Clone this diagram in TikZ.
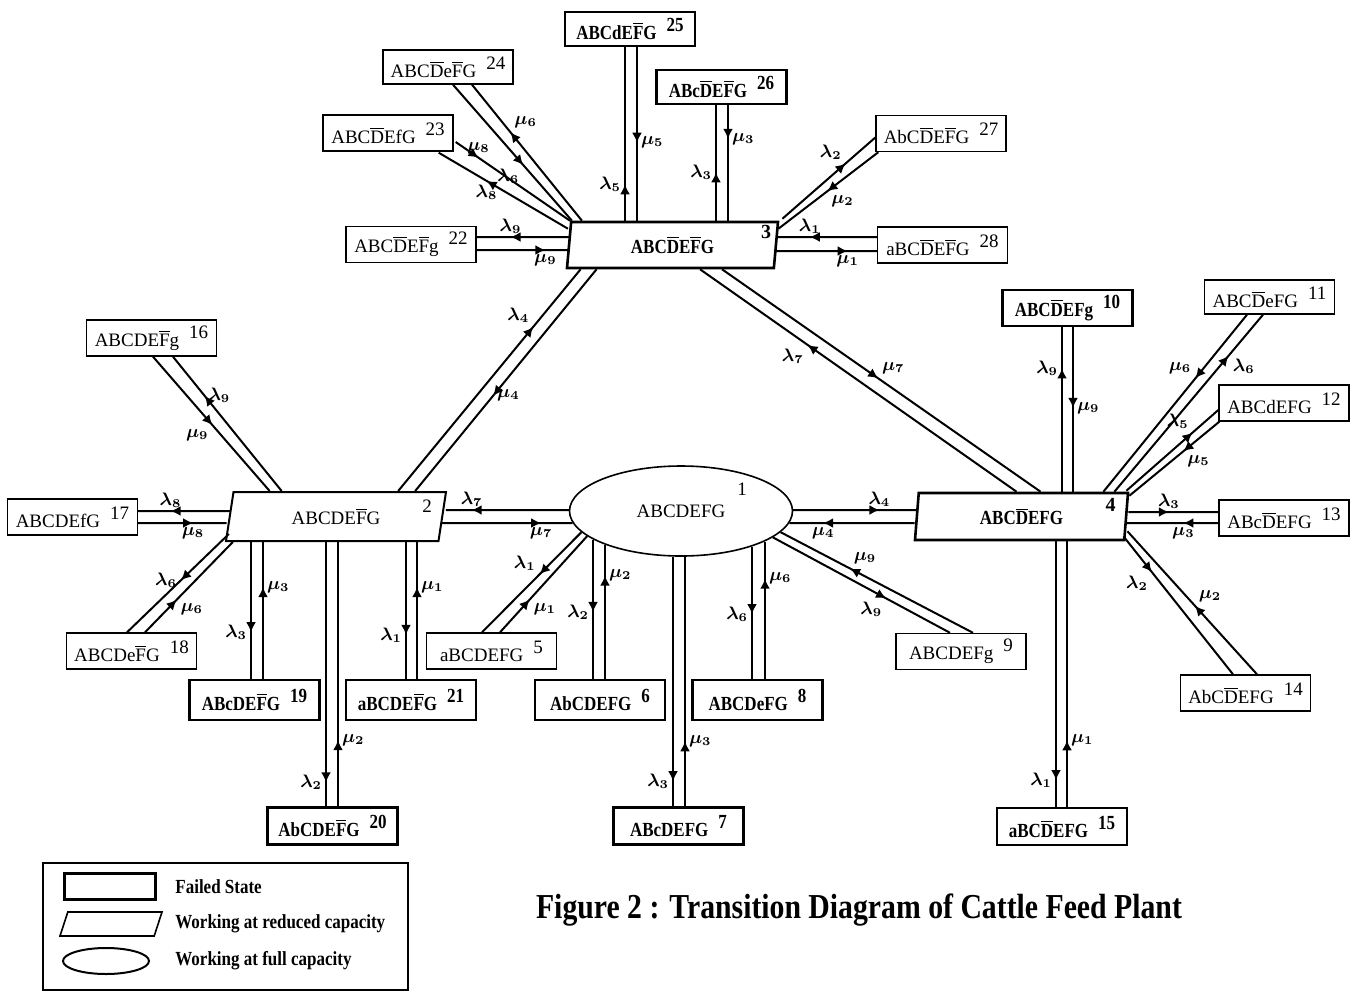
\documentclass[tikz,border=0pt]{standalone}
\usepackage{fontspec}
\setmainfont{Liberation Serif}
\newfontfamily\narrowfont[FakeStretch=0.85]{Liberation Serif}
\usetikzlibrary{shapes.geometric,arrows.meta,calc,decorations.markings}

\newcommand{\ov}[1]{$\overline{\mbox{#1}}$}
\newcommand{\nm}[1]{\hspace{5pt}\raisebox{4pt}{#1}}

\tikzset{
  sbox/.style={draw, line width=0.7pt, minimum width=65pt, minimum height=18pt, inner sep=1pt, font=\fontsize{9.5}{11}\selectfont},
  sboxb/.style={sbox, line width=1.4pt, font=\fontsize{10}{11}\selectfont\narrowfont\bfseries},
  wstate/.style={trapezium, trapezium stretches body, draw, line width=1pt, inner sep=1pt, minimum height=23pt},
  wire/.style={line width=1pt},
  arr/.style={postaction={decorate}, decoration={markings, mark=at position #1 with {\arrow{Latex[length=5pt,width=5pt]}}}},
  rate/.style={font=\fontsize{9}{10}\selectfont\boldmath, inner sep=1.5pt},
  num/.style={font=\fontsize{9.5}{11}\selectfont, inner sep=0pt},
  legtxt/.style={font=\fontsize{10}{12}\selectfont\narrowfont\bfseries, anchor=west, inner sep=0pt},
}

\begin{document}
\begin{tikzpicture}[x=0.5pt, y=-0.5pt]
\useasboundingbox (0,0) rectangle (1356,992);

% working states
\node[draw, ellipse, line width=0.8pt, minimum width=111.5pt, minimum height=45pt, font=\fontsize{9.5}{11}\selectfont, label={[num, xshift=30.5pt, yshift=11pt]center:1}] (n1) at (681,511) {ABCDEFG};
\node[wstate, trapezium left angle=70, trapezium right angle=110, minimum width=110pt, minimum height=24.5pt, font=\fontsize{9.5}{11}\selectfont, label={[num, xshift=45.5pt, yshift=5pt]center:2}] (n2) at (336,516.5) {ABCDE\ov{F}G};
\node[wstate, line width=1.3pt, trapezium left angle=79, trapezium right angle=101, minimum width=105.5pt, font=\fontsize{10}{11}\selectfont\narrowfont\bfseries, label={[num, font=\fontsize{10}{11}\selectfont\bfseries, xshift=46.75pt, yshift=6.5pt]center:3}] (n3) at (672.5,245) {ABC\ov{D}E\ov{F}G};
\node[wstate, line width=1.3pt, trapezium left angle=80, trapezium right angle=100, minimum width=106.5pt, minimum height=23.5pt, font=\fontsize{10}{11}\selectfont\narrowfont\bfseries, label={[num, font=\fontsize{10}{11}\selectfont\bfseries, xshift=44.5pt, yshift=5.75pt]center:4}] (n4) at (1021.5,516.5) {ABC\ov{D}EFG};

% failed states
\node[sboxb, minimum height=17pt] (n25) at (630,29) {ABCdE\ov{F}G\nm{25}};
\node[sbox, minimum height=17pt] (n24) at (448,67) {ABC\ov{D}e\ov{F}G\nm{24}};
\node[sboxb, minimum height=17pt] (n26) at (721.5,87) {ABc\ov{D}E\ov{F}G\nm{26}};
\node[sbox] (n23) at (388,133) {ABC\ov{D}EfG\nm{23}};
\node[sbox] (n27) at (941,133.5) {AbC\ov{D}E\ov{F}G\nm{27}};
\node[sbox] (n22) at (411,244.5) {ABC\ov{D}E\ov{F}g\nm{22}};
\node[sbox] (n28) at (942.5,245) {aBC\ov{D}E\ov{F}G\nm{28}};
\node[sbox] (n16) at (151.5,338) {ABCDE\ov{F}g\nm{16}};
\node[sboxb] (n10) at (1067.5,308) {ABC\ov{D}EFg\nm{10}};
\node[sbox, minimum height=17pt] (n11) at (1269.5,297) {ABC\ov{D}eFG\nm{11}};
\node[sbox] (n12) at (1284,403) {ABCdEFG\nm{12}};
\node[sbox] (n17) at (72.5,517) {ABCDEfG\nm{17}};
\node[sbox] (n13) at (1284,518) {ABc\ov{D}EFG\nm{13}};
\node[sbox] (n18) at (131.5,651) {ABCDe\ov{F}G\nm{18}};
\node[sbox] (n5) at (491.5,651) {aBCDEFG\nm{5}};
\node[sbox] (n9) at (961,651.5) {ABCDEFg\nm{9}};
\node[sboxb, minimum height=20pt] (n19) at (254.5,700) {ABcDE\ov{F}G\nm{19}};
\node[sboxb, minimum height=20pt] (n21) at (411,700) {aBCDE\ov{F}G\nm{21}};
\node[sboxb, minimum height=20pt] (n6) at (600,700) {AbCDEFG\nm{6}};
\node[sboxb, minimum height=20pt] (n8) at (757.5,700) {ABCDeFG\nm{8}};
\node[sboxb, minimum height=18.5pt] (n20) at (332.5,826) {AbCDE\ov{F}G\nm{20}};
\node[sboxb, minimum height=18.5pt] (n7) at (678.5,826) {ABcDEFG\nm{7}};
\node[sboxb, minimum height=18.5pt] (n15) at (1062,826.5) {aBC\ov{D}EFG\nm{15}};
\node[sbox] (n14) at (1245.5,693) {AbC\ov{D}EFG\nm{14}};

% transitions of state 3
\draw[wire, arr=0.21] ($(n25.south |- n3.north)+(-5,0)$) -- node[rate, pos=0.21, left] {$\lambda_5$} ($(n25.south)+(-5,0)$);
\draw[wire, arr=0.55] ($(n25.south)+(7,0)$) -- node[rate, pos=0.55, right] {$\mu_5$} ($(n25.south |- n3.north)+(7,0)$);
\draw[wire, arr=0.42] ($(n26.south |- n3.north)+(-5.5,0)$) -- node[rate, pos=0.42, left] {$\lambda_3$} ($(n26.south)+(-5.5,0)$);
\draw[wire, arr=0.29] ($(n26.south)+(6.5,0)$) -- node[rate, pos=0.29, right] {$\mu_3$} ($(n26.south |- n3.north)+(6.5,0)$);
\draw[wire, arr=0.68] ($(n3.top right corner)+(3,-2)$) -- node[rate, pos=0.68, above left] {$\lambda_2$} ($(n27.west)+(0,4)$);
\draw[wire, arr=0.51] ($(n27.south west)+(3,0)$) -- node[rate, pos=0.51, below right] {$\mu_2$} ($(n3.top right corner)+(-1,8)$);
\draw[wire, arr=0.68] ($(n28.west)+(0,-8)$) -- node[rate, pos=0.68, above] {$\lambda_1$} ($(n3.east)+(1,-8)$);
\draw[wire, arr=0.71] ($(n3.east)+(-1,6)$) -- node[rate, pos=0.71, below] {$\mu_1$} ($(n28.west)+(0,6)$);
\draw[wire, arr=0.64] ($(n3.west)+(3,-8)$) -- node[rate, pos=0.64, above] {$\lambda_9$} ($(n22.east)+(0,-7.5)$);
\draw[wire, arr=0.75] ($(n22.east)+(0,5.5)$) -- node[rate, pos=0.75, below] {$\mu_9$} ($(n3.west)+(0.5,5)$);
\draw[wire, arr=0.2] ($(n23.east)+(2,9)$) -- node[rate, pos=0.2, above] {$\mu_8$} (n3.top left corner);
\draw[wire, arr=0.63] ($(n3.top left corner)+(-2,8)$) -- node[rate, pos=0.63, below] {$\lambda_8$} ($(n23.south east)+(-15,1)$);
\draw[wire, arr=0.59] ($(n24.south)+(5,0)$) -- node[rate, pos=0.59, below left] {$\lambda_6$} ($(n3.top left corner)+(2,0)$);
\draw[wire, arr=0.65] ($(n3.top left corner)+(12,0)$) -- node[rate, pos=0.65, above right] {$\mu_6$} ($(n24.south)+(24,0)$);
\draw[wire, arr=0.74] ($(n2.top right corner)+(-49,0)$) -- node[rate, pos=0.74, above left] {$\lambda_4$} ($(n3.bottom left corner)+(15,0)$);
\draw[wire, arr=0.57] ($(n3.bottom left corner)+(31,0)$) -- node[rate, pos=0.57, right] {$\mu_4$} ($(n2.top right corner)+(-32,0)$);
\draw[wire, arr=0.66] ($(n4.top left corner)+(99,0)$) -- node[rate, pos=0.66, below left] {$\lambda_7$} ($(n3.bottom right corner)+(-75,0)$);
\draw[wire, arr=0.49] ($(n3.bottom right corner)+(-53,0)$) -- node[rate, pos=0.49, above right] {$\mu_7$} ($(n4.top left corner)+(123,0)$);

% transitions of state 2
\draw[wire, arr=0.51] ($(n16.south)+(1.5,0)$) -- node[rate, pos=0.51, below left] {$\mu_9$} ($(n2.top left corner)+(37,0)$);
\draw[wire, arr=0.71] ($(n2.top left corner)+(49,0)$) -- node[rate, pos=0.71, right] {$\lambda_9$} ($(n16.south)+(21.5,0)$);
\draw[wire, arr=0.65] ($(n2.west)+(2,-5.5)$) -- node[rate, pos=0.65, above] {$\lambda_8$} ($(n17.east)+(0,-6)$);
\draw[wire, arr=0.62] ($(n17.east)+(0,6)$) -- node[rate, pos=0.62, below] {$\mu_8$} ($(n2.west)+(-2,6.5)$);
\draw[wire, arr=0.47] ($(n2.bottom left corner)+(4,-8)$) -- node[rate, pos=0.47, left] {$\lambda_6$} ($(n18.north)+(-4.5,0)$);
\draw[wire, arr=0.36] ($(n18.north)+(13.5,0)$) -- node[rate, pos=0.36, below right] {$\mu_6$} ($(n2.bottom left corner)+(8,0)$);
\draw[wire, arr=0.66] ($(n19.north |- n2.south)+(-3.5,0)$) -- node[rate, pos=0.66, left] {$\lambda_3$} ($(n19.north)+(-3.5,0)$);
\draw[wire, arr=0.67] ($(n19.north)+(8.5,0)$) -- node[rate, pos=0.67, right] {$\mu_3$} ($(n19.north |- n2.south)+(8.5,0)$);
\draw[wire, arr=0.91] ($(n20.north |- n2.south)+(-6.5,0)$) -- node[rate, pos=0.91, left] {$\lambda_2$} ($(n20.north)+(-6.5,0)$);
\draw[wire, arr=0.25] ($(n20.north)+(5.5,0)$) -- node[rate, pos=0.25, right] {$\mu_2$} ($(n20.north |- n2.south)+(5.5,0)$);
\draw[wire, arr=0.68] ($(n21.north |- n2.south)+(-5,0)$) -- node[rate, pos=0.68, left] {$\lambda_1$} ($(n21.north)+(-5,0)$);
\draw[wire, arr=0.67] ($(n21.north)+(6,0)$) -- node[rate, pos=0.67, right] {$\mu_1$} ($(n21.north |- n2.south)+(6,0)$);
\draw[wire, arr=0.79] ($(n1.west)+(0.5,-1)$) -- node[rate, pos=0.79, above] {$\lambda_7$} ($(n2.east)+(2.5,-6.5)$);
\draw[wire, arr=0.76] ($(n2.east)+(-2,6.5)$) -- node[rate, pos=0.76, below] {$\mu_7$} ($(n1.west)+(4,12)$);

% transitions of state 1
\draw[wire, arr=0.70] ($(n1.east)+(-0.5,-1)$) -- node[rate, pos=0.70, above] {$\lambda_4$} ($(n4.west)+(1,-6.5)$);
\draw[wire, arr=0.73] ($(n4.west)+(-1,6.5)$) -- node[rate, pos=0.73, below] {$\mu_4$} ($(n1.east)+(-4,12)$);
\draw[wire, arr=0.42] (n1.192) -- node[rate, pos=0.42, above left] {$\lambda_1$} ($(n5.north)+(-9.5,0)$);
\draw[wire, arr=0.34] ($(n5.north)+(8.5,0)$) -- node[rate, pos=0.34, below right] {$\mu_1$} (n1.195);
\draw[wire, arr=0.52] ($(n1.south -| n6.north)+(-7,-17)$) -- node[rate, pos=0.52, left] {$\lambda_2$} ($(n6.north)+(-7,0)$);
\draw[wire, arr=0.77] ($(n6.north)+(5,0)$) -- node[rate, pos=0.77, right] {$\mu_2$} ($(n1.south -| n6.north)+(5,-12)$);
\draw[wire, arr=0.9] ($(n1.south -| n7.north)+(-5.5,0)$) -- node[rate, pos=0.9, left] {$\lambda_3$} ($(n7.north)+(-5.5,0)$);
\draw[wire, arr=0.26] ($(n7.north)+(6.5,0)$) -- node[rate, pos=0.26, right] {$\mu_3$} ($(n1.south -| n7.north)+(6.5,0)$);
\draw[wire, arr=0.51] ($(n1.south -| n8.north)+(-5.5,-10)$) -- node[rate, pos=0.51, left] {$\lambda_6$} ($(n8.north)+(-5.5,0)$);
\draw[wire, arr=0.73] ($(n8.north)+(7.5,0)$) -- node[rate, pos=0.73, right] {$\mu_6$} ($(n1.south -| n8.north)+(7.5,-15)$);
\draw[wire, arr=0.64] ($(n9.north)+(12,0)$) -- node[rate, pos=0.64, above right] {$\mu_9$} (n1.348);
\draw[wire, arr=0.64] (n1.344) -- node[rate, pos=0.64, below left] {$\lambda_9$} ($(n9.north)+(-11,0)$);

% transitions of state 4
\draw[wire, arr=0.75] ($(n10.south |- n4.north)+(-5.5,0)$) -- node[rate, pos=0.75, left] {$\lambda_9$} ($(n10.south)+(-5.5,0)$);
\draw[wire, arr=0.49] ($(n10.south)+(5.5,0)$) -- node[rate, pos=0.49, right] {$\mu_9$} ($(n10.south |- n4.north)+(5.5,0)$);
\draw[wire, arr=0.36] ($(n11.south)+(-22.5,0)$) -- node[rate, pos=0.36, above left] {$\mu_6$} ($(n4.top right corner)+(-26,0)$);
\draw[wire, arr=0.77] ($(n4.top right corner)+(-15,0)$) -- node[rate, pos=0.77, below right] {$\lambda_6$} ($(n11.south)+(-6.5,0)$);
\draw[wire, arr=0.72] ($(n4.top right corner)+(-3,-1)$) -- node[rate, pos=0.72, above left] {$\lambda_5$} ($(n12.west)+(0,7)$);
\draw[wire, arr=0.40] ($(n12.south west)+(1,0)$) -- node[rate, pos=0.40, below right] {$\mu_5$} ($(n4.top right corner)+(0,4)$);
\draw[wire, arr=0.45] ($(n4.east)+(1,-4.5)$) -- node[rate, pos=0.45, above] {$\lambda_3$} ($(n13.west)+(0,-6)$);
\draw[wire, arr=0.38] ($(n13.west)+(0,5)$) -- node[rate, pos=0.38, below] {$\mu_3$} ($(n4.east)+(-1,6.5)$);
\draw[wire, arr=0.26] ($(n4.bottom right corner)+(-2,-5)$) -- node[rate, pos=0.26, below left] {$\lambda_2$} ($(n14.north)+(-12.5,0)$);
\draw[wire, arr=0.48] ($(n14.north)+(11.5,0)$) -- node[rate, pos=0.48, above right] {$\mu_2$} ($(n4.bottom right corner)+(2,-10)$);
\draw[wire, arr=0.9] ($(n15.north |- n4.south)+(-6,0)$) -- node[rate, pos=0.9, left] {$\lambda_1$} ($(n15.north)+(-6,0)$);
\draw[wire, arr=0.25] ($(n15.north)+(5,0)$) -- node[rate, pos=0.25, right] {$\mu_1$} ($(n15.north |- n4.south)+(5,0)$);

% legend
\draw[line width=1.2pt] (43,863) rectangle (408,990);
\node[draw, line width=1.5pt, minimum width=45.5pt, minimum height=13pt] (lfail) at (109.5,886) {};
\node[trapezium, trapezium stretches body, trapezium left angle=72, trapezium right angle=108, draw, line width=0.8pt, minimum width=51pt, inner xsep=0pt, inner ysep=6pt] (lred) at (111,924) {};
\node[draw, ellipse, line width=1pt, minimum width=43pt, minimum height=13pt] (lfull) at (106,961) {};
\node[legtxt] (tfail) at (175,887) {Failed State};
\node[legtxt] (tred) at (175,924) {Working at reduced capacity};
\node[legtxt] (tfull) at (175,961) {Working at full capacity};

\node[font=\fontsize{17.5}{20}\selectfont\narrowfont\bfseries] (title) at (859,910) {Figure 2 : Transition Diagram of Cattle Feed Plant};
\end{tikzpicture}
\end{document}
